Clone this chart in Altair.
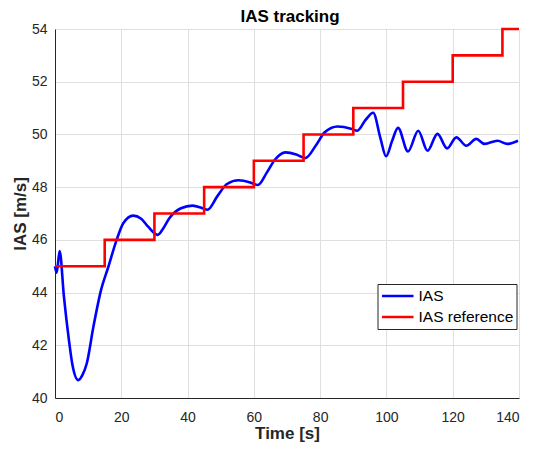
import altair as alt
import pandas as pd

# IAS response
ias_t = [0, 0.5, 1.4, 2.7, 4.2, 5.2, 7.0, 8.3, 9.6, 11.6, 13.9, 16.1, 18.6, 20.6, 23.6, 26.0,
         28.1, 31.0, 32.5, 34.5, 38.0, 41.5, 44.5, 46.0, 49.0, 51.9, 55.4, 58.9, 61.2, 63.9,
         66.4, 69.5, 72.8, 75.5, 78.8, 81.3, 85.3, 89.3, 91.2, 93.7, 96.0, 98.2, 99.9, 101.7,
         103.5, 106.5, 109.6, 112.4, 115.4, 118.3, 121.1, 124.1, 127.1, 129.6, 133.5, 136.5, 139.7]
ias_v = [45.0, 44.75, 45.58, 43.84, 42.2, 41.3, 40.68, 40.88, 41.32, 42.71, 44.1, 44.98, 46.0, 46.63,
         46.92, 46.8, 46.5, 46.19, 46.4, 46.82, 47.2, 47.3, 47.2, 47.14, 47.66, 48.12, 48.26, 48.18,
         48.08, 48.55, 49.05, 49.32, 49.24, 49.1, 49.6, 50.07, 50.3, 50.22, 50.14, 50.55, 50.82,
         49.85, 49.17, 49.75, 50.25, 49.35, 50.14, 49.38, 50.02, 49.47, 49.89, 49.57, 49.83, 49.64,
         49.76, 49.64, 49.76]

# IAS reference steps
ref_t = [0, 15, 30, 45, 60, 75, 90, 105, 120, 135, 140]
ref_v = [45, 46, 47, 48, 49, 50, 51, 52, 53, 54, 54]

x_ticks = [0, 20, 40, 60, 80, 100, 120, 140]
y_ticks = [40, 42, 44, 46, 48, 50, 52, 54]

series_names = ["IAS", "IAS reference"]
series_colors = ["#0000ff", "#ff0000"]
chart_title = ["IAS tracking"]

ias_df = pd.DataFrame({"t": ias_t, "v": ias_v, "s": series_names[0]})
ref_df = pd.DataFrame({"t": ref_t, "v": ref_v, "s": series_names[1]})
title_df = pd.DataFrame({"label": chart_title})

FONT = "Liberation Sans"
TXT = "#262626"
W, H = 464, 369

x_enc = alt.X("t:Q", scale=alt.Scale(domain=[0, 140], nice=False),
              axis=alt.Axis(title="Time [s]", values=x_ticks, labelPadding=12, titlePadding=1))
y_enc = alt.Y("v:Q", scale=alt.Scale(domain=[40, 54], nice=False, zero=False),
              axis=alt.Axis(title="IAS [m/s]", values=y_ticks, labelPadding=8, titlePadding=2))
color_enc = alt.Color("s:N", scale=alt.Scale(domain=series_names, range=series_colors),
                      legend=alt.Legend(orient="none", legendX=322.5, legendY=255, title=None,
                                        symbolType="M-1,0H3.2", symbolSize=225, symbolStrokeWidth=2.5,
                                        labelFontSize=15.5, labelFont=FONT, labelColor="#000000",
                                        strokeColor=TXT, fillColor="white", padding=3,
                                        rowPadding=3, labelOffset=20))

ias_line = alt.Chart(ias_df).mark_line(strokeWidth=2.6, interpolate="monotone").encode(
    x=x_enc, y=y_enc, color=color_enc)
ref_line = alt.Chart(ref_df).mark_line(strokeWidth=2.6, interpolate="step-after").encode(
    x=x_enc, y=y_enc, color=color_enc)
title_mark = alt.Chart(title_df).mark_text(
    font=FONT, fontSize=17, fontWeight="bold", color="#000000",
    align="center", baseline="alphabetic").encode(
    text="label:N", x=alt.value(W / 2 + 3), y=alt.value(-7.3))

chart = alt.layer(ias_line, ref_line, title_mark).properties(
    width=W, height=H,
    autosize=alt.AutoSizeParams(type="none"),
    padding={"left": 47, "top": 21, "right": 12, "bottom": 46},
).configure_view(stroke=None).configure_axis(
    labelFont=FONT, labelFontSize=14, labelColor=TXT,
    titleFont=FONT, titleFontSize=17, titleFontWeight="bold", titleColor=TXT,
    domainColor=TXT, domainWidth=1, tickSize=0,
    gridColor="#dfdfdf", gridWidth=1,
)

chart.save("out.html", embed_options={"renderer": "svg", "actions": False})
